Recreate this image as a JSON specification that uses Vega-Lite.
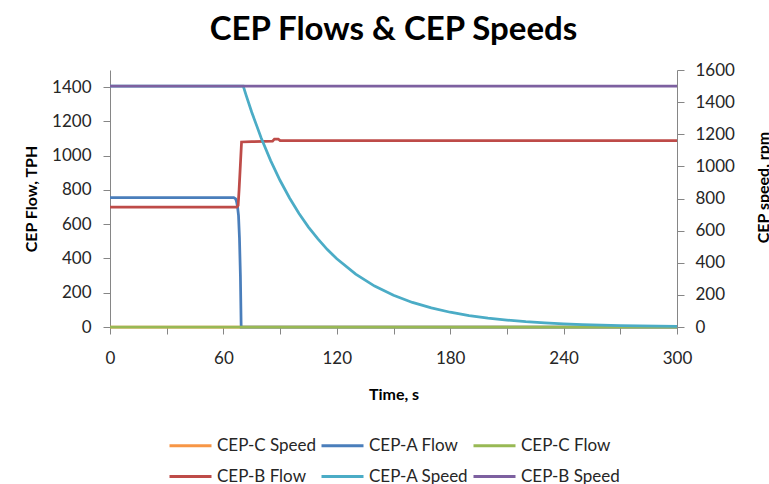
{
  "$schema": "https://vega.github.io/schema/vega-lite/v6.json",
  "width": 567,
  "height": 257,
  "autosize": {"type": "none"},
  "padding": {"left": 110, "top": 70, "right": 92, "bottom": 157},
  "background": "white",
  "title": {"text": "CEP Flows & CEP Speeds", "font": "Lato", "fontSize": 33, "fontWeight": "bold", "color": "#000000", "anchor": "middle", "offset": 14},
  "config": {
    "view": {"stroke": null},
    "font": "Lato",
    "axis": {"grid": false, "domainColor": "#868686", "tickColor": "#868686", "labelColor": "#262626", "labelFont": "Lato", "labelFontSize": 17, "titleFont": "Lato", "titleFontSize": 16, "titleFontWeight": "bold", "titleColor": "#000000", "tickSize": 7, "domainWidth": 1, "format": "d"},
    "legend": {"labelFont": "Lato", "labelFontSize": 17, "labelColor": "#262626"}
  },
  "data": {"values": [
    {"t": 0, "series": "CEP-C Speed", "v": 0},
    {"t": 300, "series": "CEP-C Speed", "v": 0},
    {"t": 0, "series": "CEP-A Flow", "v": 755},
    {"t": 65.5, "series": "CEP-A Flow", "v": 755},
    {"t": 66.5, "series": "CEP-A Flow", "v": 748},
    {"t": 67, "series": "CEP-A Flow", "v": 730},
    {"t": 67.5, "series": "CEP-A Flow", "v": 700},
    {"t": 68, "series": "CEP-A Flow", "v": 650},
    {"t": 68.5, "series": "CEP-A Flow", "v": 520},
    {"t": 69, "series": "CEP-A Flow", "v": 300},
    {"t": 69.4, "series": "CEP-A Flow", "v": 0},
    {"t": 300, "series": "CEP-A Flow", "v": 0},
    {"t": 0, "series": "CEP-C Flow", "v": 0},
    {"t": 300, "series": "CEP-C Flow", "v": 0},
    {"t": 0, "series": "CEP-B Flow", "v": 700},
    {"t": 67, "series": "CEP-B Flow", "v": 700},
    {"t": 67.8, "series": "CEP-B Flow", "v": 710},
    {"t": 68.3, "series": "CEP-B Flow", "v": 800},
    {"t": 69, "series": "CEP-B Flow", "v": 950},
    {"t": 69.6, "series": "CEP-B Flow", "v": 1080},
    {"t": 75, "series": "CEP-B Flow", "v": 1082},
    {"t": 86, "series": "CEP-B Flow", "v": 1085},
    {"t": 87, "series": "CEP-B Flow", "v": 1097},
    {"t": 89, "series": "CEP-B Flow", "v": 1097},
    {"t": 90, "series": "CEP-B Flow", "v": 1088},
    {"t": 300, "series": "CEP-B Flow", "v": 1088},
    {"t": 0, "series": "CEP-A Speed", "v": 1500},
    {"t": 70.5, "series": "CEP-A Speed", "v": 1500},
    {"t": 72, "series": "CEP-A Speed", "v": 1444},
    {"t": 75, "series": "CEP-A Speed", "v": 1337},
    {"t": 80, "series": "CEP-A Speed", "v": 1177},
    {"t": 85, "series": "CEP-A Speed", "v": 1036},
    {"t": 90, "series": "CEP-A Speed", "v": 912},
    {"t": 95, "series": "CEP-A Speed", "v": 803},
    {"t": 100, "series": "CEP-A Speed", "v": 707},
    {"t": 105, "series": "CEP-A Speed", "v": 622},
    {"t": 110, "series": "CEP-A Speed", "v": 548},
    {"t": 115, "series": "CEP-A Speed", "v": 482},
    {"t": 120, "series": "CEP-A Speed", "v": 425},
    {"t": 130, "series": "CEP-A Speed", "v": 329},
    {"t": 140, "series": "CEP-A Speed", "v": 255},
    {"t": 150, "series": "CEP-A Speed", "v": 198},
    {"t": 160, "series": "CEP-A Speed", "v": 153},
    {"t": 170, "series": "CEP-A Speed", "v": 119},
    {"t": 180, "series": "CEP-A Speed", "v": 92},
    {"t": 190, "series": "CEP-A Speed", "v": 71},
    {"t": 200, "series": "CEP-A Speed", "v": 55},
    {"t": 210, "series": "CEP-A Speed", "v": 43},
    {"t": 220, "series": "CEP-A Speed", "v": 33},
    {"t": 230, "series": "CEP-A Speed", "v": 26},
    {"t": 240, "series": "CEP-A Speed", "v": 20},
    {"t": 250, "series": "CEP-A Speed", "v": 15},
    {"t": 260, "series": "CEP-A Speed", "v": 12},
    {"t": 270, "series": "CEP-A Speed", "v": 9},
    {"t": 280, "series": "CEP-A Speed", "v": 7},
    {"t": 290, "series": "CEP-A Speed", "v": 6},
    {"t": 300, "series": "CEP-A Speed", "v": 4},
    {"t": 0, "series": "CEP-B Speed", "v": 1500},
    {"t": 300, "series": "CEP-B Speed", "v": 1500}
  ]},
  "layer": [
    {
      "encoding": {
        "x": {"field": "t", "type": "quantitative", "scale": {"domain": [0, 300], "nice": false, "zero": false},
              "axis": {"title": "Time, s", "values": [0, 30, 60, 90, 120, 150, 180, 210, 240, 270, 300], "labelExpr": "datum.value % 60 == 0 ? datum.label : ''", "labelPadding": 16, "titlePadding": 20, "labelFlush": false}},
        "y": {"field": "v", "type": "quantitative", "scale": {"domain": [0, 1500], "nice": false},
              "axis": {"title": "CEP Flow, TPH", "orient": "left", "values": [0, 200, 400, 600, 800, 1000, 1200, 1400], "labelPadding": 12, "titlePadding": 12}},
        "color": {"field": "series", "type": "nominal",
                  "scale": {"domain": ["CEP-C Speed", "CEP-A Flow", "CEP-C Flow", "CEP-B Flow", "CEP-A Speed", "CEP-B Speed"],
                            "range": ["#F79646", "#4A7EBB", "#98B954", "#BE4B48", "#4BACC6", "#7D60A0"]},
                  "legend": {"title": null, "orient": "none", "direction": "horizontal", "legendX": 58, "legendY": 353, "columns": 3, "symbolType": "stroke", "symbolSize": 1764, "symbolStrokeWidth": 3, "labelOffset": 4, "columnPadding": -2, "rowPadding": -5}}
      },
      "layer": [
        {"transform": [{"filter": "datum.series === 'CEP-C Speed'"}], "mark": {"type": "line", "strokeWidth": 2.75}},
        {"transform": [{"filter": "datum.series === 'CEP-A Flow'"}], "mark": {"type": "line", "strokeWidth": 2.75}},
        {"transform": [{"filter": "datum.series === 'CEP-C Flow'"}], "mark": {"type": "line", "strokeWidth": 2.75}},
        {"transform": [{"filter": "datum.series === 'CEP-B Flow'"}], "mark": {"type": "line", "strokeWidth": 2.75}}
      ]
    },
    {
      "encoding": {
        "x": {"field": "t", "type": "quantitative", "scale": {"domain": [0, 300], "nice": false, "zero": false},
              "axis": {"title": "Time, s", "values": [0, 30, 60, 90, 120, 150, 180, 210, 240, 270, 300], "labelExpr": "datum.value % 60 == 0 ? datum.label : ''", "labelPadding": 16, "titlePadding": 20, "labelFlush": false}},
        "y": {"field": "v", "type": "quantitative", "scale": {"domain": [0, 1600], "nice": false},
              "axis": {"title": "CEP speed, rpm", "orient": "right", "values": [0, 200, 400, 600, 800, 1000, 1200, 1400, 1600], "labelPadding": 11, "titlePadding": 37, "titleAngle": 270, "titleY": 117}},
        "color": {"field": "series", "type": "nominal",
                  "scale": {"domain": ["CEP-C Speed", "CEP-A Flow", "CEP-C Flow", "CEP-B Flow", "CEP-A Speed", "CEP-B Speed"],
                            "range": ["#F79646", "#4A7EBB", "#98B954", "#BE4B48", "#4BACC6", "#7D60A0"]},
                  "legend": {"title": null, "orient": "none", "direction": "horizontal", "legendX": 58, "legendY": 353, "columns": 3, "symbolType": "stroke", "symbolSize": 1764, "symbolStrokeWidth": 3, "labelOffset": 4, "columnPadding": -2, "rowPadding": -5}}
      },
      "layer": [
        {"transform": [{"filter": "datum.series === 'CEP-A Speed'"}], "mark": {"type": "line", "strokeWidth": 2.75}},
        {"transform": [{"filter": "datum.series === 'CEP-B Speed'"}], "mark": {"type": "line", "strokeWidth": 2.75}}
      ]
    }
  ],
  "resolve": {"scale": {"y": "independent"}}
}
